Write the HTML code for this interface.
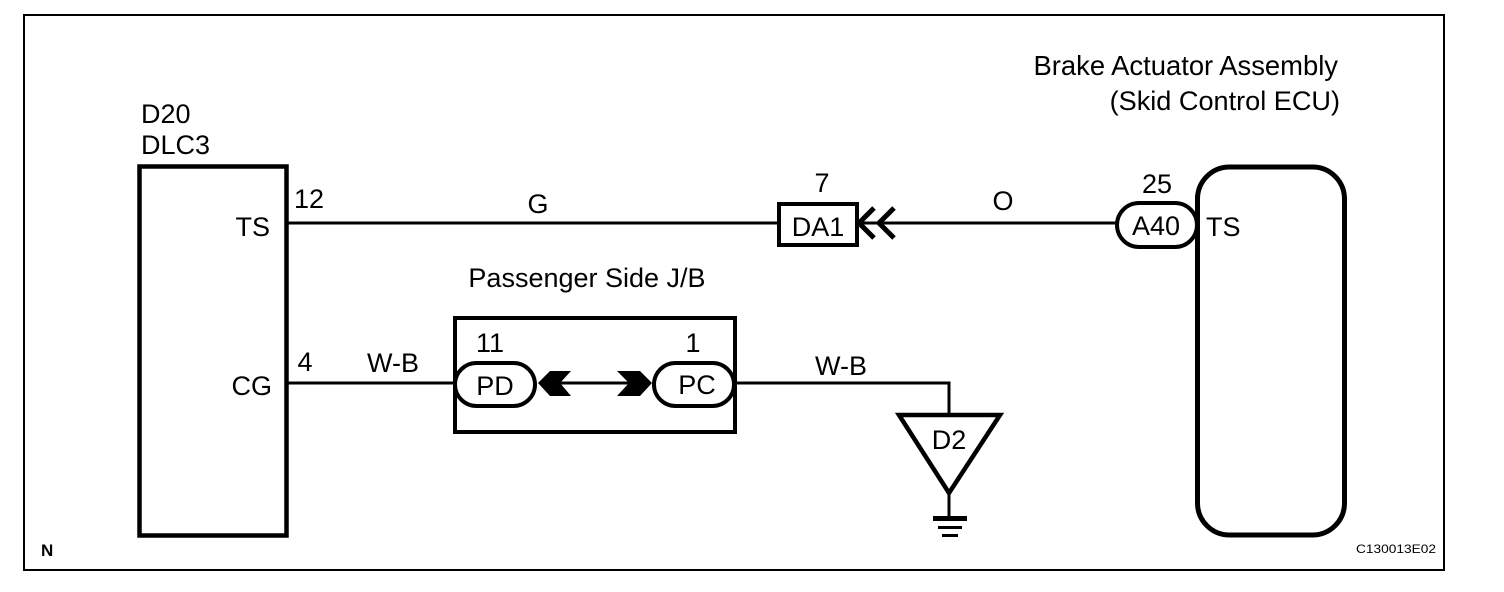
<!DOCTYPE html>
<html>
<head>
<meta charset="utf-8">
<style>
html,body{margin:0;padding:0;background:#fff;}
svg{display:block;}
text{font-family:"Liberation Sans",sans-serif;font-size:27px;fill:#000;}
.m{text-anchor:middle;}
.e{text-anchor:end;}
</style>
</head>
<body>
<svg width="1504" height="592" viewBox="0 0 1504 592" xmlns="http://www.w3.org/2000/svg">
<rect width="1504" height="592" fill="#fff"/>
<!-- frame -->
<rect x="24" y="15" width="1420" height="555" fill="none" stroke="#000" stroke-width="2"/>

<!-- wires -->
<g stroke="#000" stroke-width="3" fill="none">
<line x1="286" y1="223" x2="779" y2="223"/>
<line x1="860" y1="223" x2="1116" y2="223"/>
<line x1="286" y1="383" x2="455" y2="383"/>
<line x1="540" y1="383" x2="650" y2="383"/>
<polyline points="735,383 949,383 949,415"/>
<line x1="949" y1="494" x2="949" y2="516"/>
</g>

<!-- DLC3 -->
<rect x="139.5" y="166.5" width="147" height="369" fill="#fff" stroke="#000" stroke-width="4.5"/>

<!-- DA1 -->
<rect x="779" y="204" width="78" height="41" fill="#fff" stroke="#000" stroke-width="4"/>
<g stroke="#000" stroke-width="5" fill="none">
<polyline points="874,208 859,223 874,238"/>
<polyline points="894,208 879,223 894,238"/>
</g>

<!-- ECU -->
<rect x="1197.5" y="167" width="147" height="368" rx="32" ry="32" fill="#fff" stroke="#000" stroke-width="5"/>
<!-- A40 pill -->
<rect x="1117" y="203" width="80" height="44" rx="22" ry="22" fill="#fff" stroke="#000" stroke-width="4"/>
<line x1="1197.5" y1="195" x2="1197.5" y2="255" stroke="#000" stroke-width="5"/>

<!-- J/B -->
<rect x="455" y="318" width="280" height="114" fill="none" stroke="#000" stroke-width="4"/>
<rect x="455" y="363" width="80" height="43" rx="21.5" ry="21.5" fill="#fff" stroke="#000" stroke-width="4"/>
<rect x="654" y="363" width="80" height="43" rx="21.5" ry="21.5" fill="#fff" stroke="#000" stroke-width="4"/>
<polygon points="538,383 550,371 571,371 560,383 571,396 550,396" fill="#000"/>
<polygon points="617,371 640,371 652,383 640,396 617,396 629,383" fill="#000"/>

<!-- ground -->
<polygon points="899,415 1000,415 949,493" fill="#fff" stroke="#000" stroke-width="4.5"/>
<rect x="933" y="516" width="34" height="5" fill="#000"/>
<rect x="938" y="526" width="24" height="3" fill="#000"/>
<rect x="942" y="534" width="16" height="3" fill="#000"/>

<!-- labels -->
<text x="141" y="123">D20</text>
<text x="141" y="154">DLC3</text>
<text class="e" x="1338" y="75" style="font-size:27.4px">Brake Actuator Assembly</text>
<text class="e" x="1340" y="110" style="font-size:27.1px">(Skid Control ECU)</text>
<text class="e" x="270" y="236">TS</text>
<text x="294" y="208">12</text>
<text class="m" x="538" y="213">G</text>
<text class="m" x="822" y="192">7</text>
<text class="m" x="818" y="236">DA1</text>
<text class="m" x="1003" y="210">O</text>
<text class="m" x="1157" y="193">25</text>
<text class="m" x="1156" y="235">A40</text>
<text x="1206" y="236">TS</text>
<text class="m" x="587" y="287">Passenger Side J/B</text>
<text class="e" x="272" y="395">CG</text>
<text class="m" x="305" y="371">4</text>
<text class="m" x="393" y="372">W-B</text>
<text class="m" x="490" y="352">11</text>
<text class="m" x="693" y="352">1</text>
<text class="m" x="495" y="395">PD</text>
<text class="m" x="697" y="394">PC</text>
<text class="m" x="841" y="375">W-B</text>
<text class="m" x="949" y="449">D2</text>
<text x="41" y="556" style="font-size:17px;font-weight:bold">N</text>
<text x="1356" y="553" textLength="80" lengthAdjust="spacingAndGlyphs" style="font-size:12px">C130013E02</text>
</svg>
</body>
</html>
